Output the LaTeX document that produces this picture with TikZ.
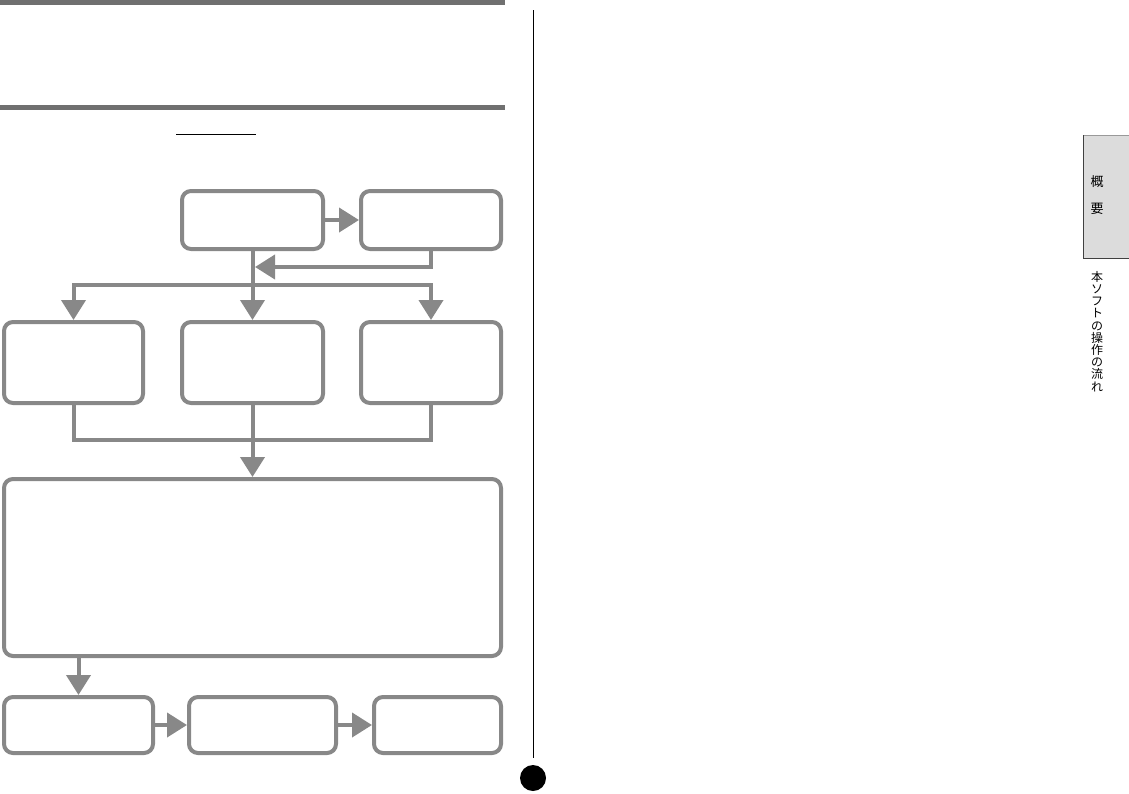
\documentclass[tikz,border=0pt]{standalone}
\usepackage{fontspec}
\newfontfamily\cjk{Noto Sans CJK JP}
\usetikzlibrary{arrows.meta}
\definecolor{boxgray}{HTML}{888888}
\definecolor{bargray}{HTML}{707070}
\definecolor{tabgray}{HTML}{DCDCDC}
\tikzset{
  flowbox/.style={draw=boxgray, line width=4pt, rounded corners=9pt, inner sep=0pt, fill=white},
  conn/.style={draw=boxgray, line width=4pt, line cap=butt, line join=miter},
  arr/.style={conn, -{Triangle[length=20pt, width=24pt]}},
}
\begin{document}
\begin{tikzpicture}[x=1pt, y=-1pt]
\useasboundingbox (0,0) rectangle (1129,793);
% header bars
\fill[bargray] (0,0) rectangle (505,5);
\fill[bargray] (0,105) rectangle (505,110);
\draw[black, line width=1.3pt] (176,134.5) -- (256,134.5);
% separator line and page dot
\coordinate (vtop) at (533.5,10);
\coordinate (vbot) at (533.5,758);
\draw[black, line width=1pt] (vtop) -- (vbot);
\fill[black] (533,778) circle (13);
% side tab
\fill[tabgray] (1083,135) rectangle (1129,258);
\draw[black!40, line width=0.8pt] (1129,135) -- (1083,135);
\draw[black!75, line width=1pt] (1083,135) -- (1083,258) -- (1129,258);
\node[font=\cjk\fontsize{13}{13}\selectfont] (t_gai) at (1097,182) {概};
\node[font=\cjk\fontsize{13}{13}\selectfont] (t_you) at (1097,209) {要};
\node[font=\cjk\fontsize{12}{12.2}\selectfont, align=center, anchor=north, inner sep=0pt] (t_flow) at (1097,271)
  {本\\ソ\\フ\\ト\\の\\操\\作\\の\\流\\れ};
% boxes
\node[flowbox, minimum width=141pt, minimum height=58pt] (t1) at (252.5,220) {};
\node[flowbox, minimum width=140pt, minimum height=58pt] (t2) at (431,220) {};
\node[flowbox, minimum width=139pt, minimum height=81pt] (mA) at (73.5,362.5) {};
\node[flowbox, minimum width=141pt, minimum height=81pt] (mB) at (252.5,362.5) {};
\node[flowbox, minimum width=140pt, minimum height=81pt] (mC) at (431,362.5) {};
\node[flowbox, minimum width=497pt, minimum height=177pt] (big) at (252.5,567.5) {};
\node[flowbox, minimum width=149pt, minimum height=56pt] (b1) at (78.5,725) {};
\node[flowbox, minimum width=147pt, minimum height=56pt] (b2) at (262.5,725) {};
\node[flowbox, minimum width=127pt, minimum height=56pt] (b3) at (437.5,725) {};
% connectors
\coordinate (j1) at (255,267);
\coordinate (d) at (252.5,285);
\coordinate (m) at (252.5,440);
\draw[arr] (t1.east) -- (t2.west);
\draw[arr] (t2.south) |- (j1);
\draw[arr] (t1.south) -- (mB.north);
\draw[arr] (d) -| (mA.north);
\draw[arr] (d) -| (mC.north);
\draw[conn] (mA.south) |- (m) -| (mC.south);
\draw[arr] (mB.south) -- (big.north);
\draw[arr] (big.south -| b1.north) -- (b1.north);
\draw[arr] (b1.east) -- (b2.west);
\draw[arr] (b2.east) -- (b3.west);
\end{tikzpicture}
\end{document}
